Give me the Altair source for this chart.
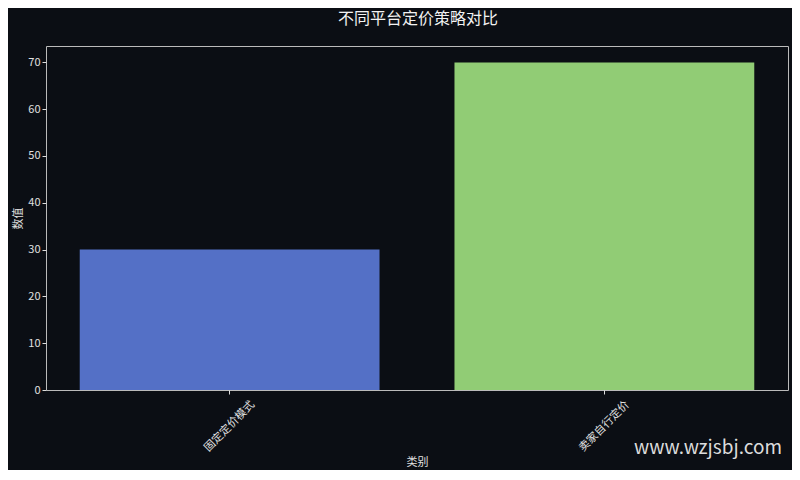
import altair as alt
import pandas as pd

title_text = "不同平台定价策略对比"
categories = ["固定定价模式", "卖家自行定价"]
values = [30, 70]
colors = ["#5470c6", "#91cc75"]
y_ticks = [0, 10, 20, 30, 40, 50, 60, 70]
watermark_text = "www.wzjsbj.com"

df = pd.DataFrame({"类别": categories, "数值": values})

FONT = "Noto Sans CJK SC"
BG = "#0b0e14"
FG = "#e0e0e0"

bars = alt.Chart(df).mark_bar().encode(
    x=alt.X(
        "类别:N",
        sort=categories,
        scale=alt.Scale(paddingInner=0.2, paddingOuter=0.09),
        axis=alt.Axis(
            title="类别",
            labelAngle=-45,
            labelAlign="center",
            labelBaseline="middle",
            labelPadding=32,
            tickSize=4,
            titleY=72,
            titleBaseline="middle",
        ),
    ),
    y=alt.Y(
        "数值:Q",
        scale=alt.Scale(domain=[0, 73.5], nice=False, zero=True),
        axis=alt.Axis(
            title="数值",
            values=y_ticks,
            tickSize=4,
            labelPadding=2,
            grid=False,
            titleX=-28,
            titleBaseline="middle",
        ),
    ),
    color=alt.Color(
        "类别:N",
        scale=alt.Scale(domain=categories, range=colors),
        legend=None,
    ),
)

title = alt.Chart(pd.DataFrame({"t": [title_text]})).mark_text(
    align="center", baseline="middle", fontSize=16, font=FONT, color="#f2f2f2"
).encode(x=alt.value(372), y=alt.value(-27), text="t:N")

watermark = alt.Chart(pd.DataFrame({"t": [watermark_text]})).mark_text(
    align="left", baseline="alphabetic", fontSize=19, font=FONT, color="#dcdcdc"
).encode(x=alt.value(588), y=alt.value(408), text="t:N")

chart = (
    alt.layer(bars, title, watermark)
    .properties(
        width=742,
        height=344,
        background=BG,
        padding={"left": 38, "top": 38, "right": 4, "bottom": 80},
        autosize=alt.AutoSizeParams(type="none"),
    )
    .configure_view(stroke="#bbbbbb", strokeWidth=1, fill=BG)
    .configure_axis(
        domain=False,
        labelFont=FONT,
        titleFont=FONT,
        labelFontSize=11,
        titleFontSize=11,
        titleFontWeight="normal",
        labelColor=FG,
        titleColor=FG,
        tickColor="#dddddd",
    )
)

chart.save("out.html", embed_options={"renderer": "svg", "actions": False})
